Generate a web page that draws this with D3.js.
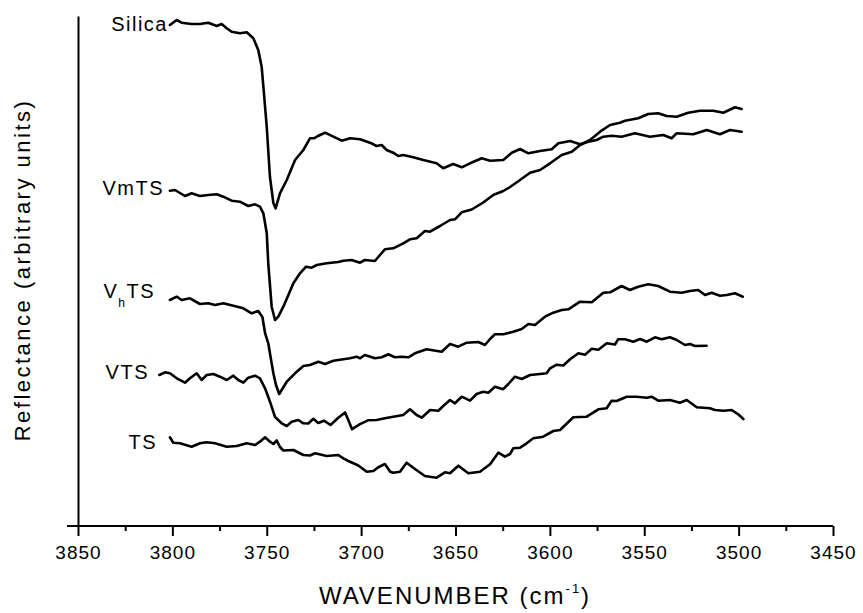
<!DOCTYPE html>
<html>
<head>
<meta charset="utf-8">
<script src="https://cdn.jsdelivr.net/npm/d3@7"></script>
<style>
  html, body { margin: 0; padding: 0; background: #fff; }
  svg { display: block; font-family: "Liberation Sans", Arial, sans-serif; }
</style>
</head>
<body>
<svg id="chart" width="863" height="613"></svg>
<script>
// Wavenumber axis ticks (cm-1), plotted high to low
const majorTicks = [3850, 3800, 3750, 3700, 3650, 3600, 3550, 3500, 3450];
const minorTicks = [3825, 3775, 3725, 3675, 3625, 3575, 3525, 3475];

// Spectra: [wavenumber, reflectance (arbitrary units, curves offset vertically)]
const silica = [
  [3801.3,501],[3797.7,506],[3795.1,503.3],[3789.8,502],[3785.4,502],[3781.0,503.3],
  [3776.5,500],[3773.9,502],[3771.2,497.7],[3768.6,494.3],[3764.2,492.7],[3760.6,493.7],
  [3757.1,487.7],[3754.5,476],[3752.7,459.3],[3751.5,433],[3750.0,399],[3748.3,349],
  [3746.5,323],[3745.3,317.7],[3743.0,332.7],[3739.4,346],[3735.0,366],[3730.6,376],
  [3727.1,387.7],[3725.0,387.7],[3722.9,390],[3719.1,393.3],[3714.7,389.3],[3710.3,385.3],
  [3705.9,387.7],[3700.6,386.7],[3695.3,383.3],[3691.8,380],[3689.1,381],[3686.5,376],
  [3683.0,373.3],[3680.3,370],[3677.7,371],[3672.4,368.7],[3667.1,366],[3660.0,362.7],
  [3656.5,357.7],[3651.2,362],[3646.7,358.7],[3642.3,362.7],[3636.1,367.7],[3631.7,365.3],
  [3624.7,366],[3620.2,373.3],[3615.8,377],[3611.4,372.7],[3605.2,375],[3599.0,376.7],
  [3595.5,382.7],[3589.3,385],[3584.0,381.7],[3579.6,384.3],[3575.2,386],[3571.7,389.3],
  [3567.3,390.3],[3562.0,389.3],[3554.9,392.7],[3547.0,389.3],[3539.9,391],[3535.5,387.7],
  [3532.8,392.7],[3524.0,391.7],[3516.9,396],[3509.9,391.7],[3504.6,396],[3498.4,394.3]
];

const vmts = [
  [3801.3,335.3],[3798.6,336],[3796.0,333],[3793.3,330],[3789.8,332.7],[3785.4,330],
  [3781.0,331],[3776.5,331.7],[3773.0,329.3],[3768.6,325.3],[3764.2,324.3],[3759.8,320],
  [3756.2,321.7],[3753.6,319.3],[3751.8,312.7],[3750.0,292.7],[3749.2,262.7],[3747.4,219.3],
  [3745.6,206],[3743.9,209.3],[3741.2,219.3],[3735.9,242.7],[3732.4,252.7],[3729.2,259.3],
  [3726.2,258.3],[3723.5,261],[3718.2,262.7],[3712.1,264],[3709.4,265.3],[3705.0,266],
  [3700.6,263.3],[3698.0,266],[3692.7,265],[3690.0,271],[3687.4,276.7],[3683.0,277.7],
  [3677.7,282.7],[3674.1,286.7],[3670.6,287.7],[3666.2,295],[3663.5,294.3],[3658.2,300],
  [3652.9,306],[3650.3,306.7],[3646.7,313.7],[3641.4,316.5],[3635.3,323.5],[3630.0,331],
  [3624.7,335],[3621.1,339],[3615.8,346],[3610.5,353.3],[3605.2,356],[3599.9,362.7],
  [3593.7,371],[3588.4,374.3],[3584.0,381],[3578.7,386],[3573.4,394.3],[3568.1,401],
  [3562.9,403.3],[3560.2,405.3],[3553.2,407.7],[3547.9,412],[3542.6,412.7],[3538.1,410],
  [3532.8,409.3],[3526.7,413.3],[3520.5,415.3],[3513.4,415.3],[3508.1,413.3],[3501.9,418.7],
  [3498.4,417]
];

const vhts = [
  [3801.3,226],[3797.7,229.3],[3795.1,226],[3790.7,227.7],[3785.4,222],[3781.0,222.7],
  [3777.4,221],[3773.0,222.7],[3767.7,220.3],[3762.4,217.7],[3758.0,212.7],[3754.5,215],
  [3752.3,209],[3750.9,193],[3749.2,182.7],[3747.7,166],[3746.5,152.7],[3745.1,141],
  [3743.4,132],[3739.4,144.3],[3735.0,152.7],[3730.6,160],[3727.1,161],[3722.7,164.3],
  [3719.1,162],[3714.7,165.3],[3709.4,166.7],[3705.9,167.7],[3702.3,169.3],[3700.6,167.7],
  [3698.0,171],[3692.7,167.7],[3689.1,168.7],[3685.6,171.7],[3682.1,168.7],[3678.5,169.3],
  [3675.0,168.7],[3671.5,172.7],[3665.3,176.7],[3657.3,174.3],[3652.9,182],[3648.5,179.3],
  [3644.1,183.3],[3637.9,184],[3634.4,181],[3631.7,187],[3629.1,191.7],[3624.7,191.7],
  [3619.4,194.3],[3614.9,197],[3611.4,202],[3607.9,201],[3602.6,209.3],[3598.2,213.3],
  [3593.7,216],[3590.2,216.7],[3584.0,224.3],[3577.8,223.7],[3571.7,233.3],[3568.1,233.7],
  [3562.0,240],[3557.6,236],[3553.2,239.3],[3547.9,241.7],[3542.6,240],[3536.4,234.3],
  [3530.2,233.3],[3525.8,235],[3521.4,236],[3517.8,231],[3514.3,233.3],[3509.9,230.3],
  [3506.3,231],[3501.9,232.7],[3497.8,229.3]
];

const vts = [
  [3806.9,151],[3803.9,153.7],[3801.3,152.7],[3797.7,147.7],[3793.3,143.3],[3790.7,147.7],
  [3787.1,152.7],[3784.5,146],[3781.8,151],[3778.3,152],[3774.8,149.3],[3771.2,146],
  [3767.7,150.3],[3765.1,146],[3762.4,143.3],[3759.8,148.3],[3756.2,150.3],[3753.6,147.7],
  [3750.9,137.7],[3748.3,124.3],[3745.6,109],[3742.1,102.7],[3739.4,100],[3736.8,104.3],
  [3733.3,106],[3730.6,102.7],[3728.0,102.5],[3725.3,107.2],[3722.7,103],[3719.7,105.3],
  [3716.2,101],[3712.1,108.2],[3708.5,113.5],[3706.8,106],[3704.8,96.8],[3700.6,101.8],
  [3696.4,105.7],[3691.8,106],[3687.4,107.7],[3683.0,109.3],[3677.7,111],[3674.1,116.7],
  [3670.6,111],[3667.9,108.3],[3663.5,116],[3659.1,115.3],[3656.5,120],[3652.9,126],
  [3650.3,122.7],[3646.7,129.3],[3642.3,125.3],[3638.8,132],[3635.3,134.3],[3632.6,133.3],
  [3629.1,139.3],[3624.7,136.8],[3622.0,142],[3618.5,149.3],[3614.9,147],[3610.5,151],
  [3605.2,152],[3601.7,152.7],[3599.9,157.7],[3596.4,161.3],[3592.9,160.5],[3589.3,166.7],
  [3584.9,172.7],[3581.4,171.3],[3577.8,177.3],[3574.3,176.3],[3569.9,182.7],[3565.5,181.5],
  [3563.8,186.8],[3560.2,186.7],[3555.8,184.3],[3552.2,187],[3548.7,184.3],[3544.3,188.7],
  [3540.8,186.7],[3536.4,188.7],[3532.8,186],[3528.4,181],[3525.8,182],[3523.1,180],
  [3517.0,180.2]
];

const ts = [
  [3801.3,88.7],[3799.5,83.3],[3796.0,82.7],[3789.8,79.3],[3785.4,82.7],[3781.8,83.7],
  [3777.4,82.7],[3771.2,79.3],[3765.9,80],[3760.6,82.7],[3756.2,81],[3753.6,84.3],
  [3750.9,88.7],[3748.3,84.3],[3746.5,82],[3744.7,85.5],[3743.0,79],[3741.2,75.5],
  [3735.9,76],[3730.6,71],[3727.1,70.5],[3724.4,72.7],[3718.2,70],[3712.1,71],
  [3709.4,67.7],[3706.8,65],[3704.1,62.7],[3701.5,60.5],[3697.0,54.3],[3693.5,55],
  [3691.1,58.5],[3687.4,62],[3684.6,54.3],[3683.0,53.2],[3679.4,54.3],[3675.9,63.3],
  [3671.5,57],[3666.2,50],[3660.0,48.3],[3655.6,53.7],[3652.9,52.7],[3648.5,60.3],
  [3643.2,52.7],[3637.0,54.3],[3631.7,61.7],[3627.3,73.3],[3623.8,69.3],[3621.1,72],
  [3619.4,77.7],[3615.8,78.3],[3612.3,82.7],[3608.8,87.7],[3603.5,89.3],[3598.2,95],
  [3594.6,96],[3587.6,108.7],[3580.5,109.3],[3574.3,116.7],[3569.9,117.7],[3567.3,125.3],
  [3564.6,125],[3559.3,129.3],[3554.0,129.3],[3548.7,128.3],[3546.1,129.3],[3542.6,125.3],
  [3536.4,126],[3531.1,123.3],[3527.5,126],[3522.2,118.7],[3515.2,117.7],[3512.5,116],
  [3508.1,115.3],[3503.7,116],[3500.2,111.7],[3497.5,107]
];

const seriesList = [silica, vmts, vhts, vts, ts];

const svg = d3.select("#chart");

const x = d3.scaleLinear().domain([3850, 3450]).range([78, 833]);
const y = d3.scaleLinear().domain([0, 510]).range([526, 16]);

// Spectral curves
const line = d3.line()
  .x(d => x(d[0]))
  .y(d => y(d[1]));

svg.append("g")
  .selectAll("path")
  .data(seriesList)
  .join("path")
  .attr("d", line)
  .attr("fill", "none")
  .attr("stroke", "#000")
  .attr("stroke-width", 2.6)
  .attr("stroke-linejoin", "round")
  .attr("stroke-linecap", "round");

// Bottom axis: major ticks with labels, minor ticks without
const xAxis = svg.append("g").attr("transform", `translate(0,${y(0)})`);
xAxis.call(d3.axisBottom(x).tickValues(majorTicks).tickSize(10).tickPadding(10)
  .tickSizeOuter(0).tickFormat(d3.format("d")));
xAxis.select(".domain").remove();
xAxis.selectAll(".tick line").attr("stroke", "#000").attr("stroke-width", 2);
xAxis.selectAll(".tick text")
  .attr("fill", "#000")
  .style("font-size", "19px")
  .style("letter-spacing", "1px");

const xMinor = svg.append("g").attr("transform", `translate(0,${y(0)})`);
xMinor.call(d3.axisBottom(x).tickValues(minorTicks).tickSize(5).tickFormat(""));
xMinor.select(".domain").remove();
xMinor.selectAll(".tick line").attr("stroke", "#000").attr("stroke-width", 2);

// Axis baseline, extending slightly left of the vertical axis
svg.append("line")
  .attr("x1", 67).attr("x2", x(3450))
  .attr("y1", y(0)).attr("y2", y(0))
  .attr("stroke", "#000").attr("stroke-width", 2);

// Vertical axis without ticks
const yAxis = svg.append("g").attr("transform", `translate(${x(3850)},0)`);
yAxis.call(d3.axisLeft(y).tickValues([]).tickSizeOuter(0));
yAxis.select(".domain").attr("stroke", "#000").attr("stroke-width", 2);

// Axis titles
const xTitle = svg.append("text")
  .attr("x", 455).attr("y", 604)
  .attr("text-anchor", "middle")
  .style("font-size", "24px")
  .style("letter-spacing", "2px")
  .attr("fill", "#000");
xTitle.append("tspan").text("WAVENUMBER (cm");
xTitle.append("tspan").attr("dy", -11).style("font-size", "13px").text("-1");
xTitle.append("tspan").attr("dy", 11).text(")");

svg.append("text")
  .attr("transform", "translate(30,270) rotate(-90)")
  .attr("text-anchor", "middle")
  .style("font-size", "22px")
  .style("letter-spacing", "2.5px")
  .attr("fill", "#000")
  .text("Reflectance (arbitrary units)");

// Curve labels
const labelNames = ["Silica", "VmTS", "VTS", "TS"];
const labelX = [168, 164, 149, 157];
const labelY = [30.7, 195, 379, 449];
svg.append("g")
  .selectAll("text")
  .data(labelNames)
  .join("text")
  .attr("x", (d, i) => labelX[i])
  .attr("y", (d, i) => labelY[i])
  .attr("text-anchor", "end")
  .style("font-size", "20px")
  .style("letter-spacing", "1.5px")
  .attr("fill", "#000")
  .text(d => d);

// V_h TS label with subscript
const vh = svg.append("text")
  .attr("x", 155).attr("y", 298.3)
  .attr("text-anchor", "end")
  .style("font-size", "20px")
  .style("letter-spacing", "1.5px")
  .attr("fill", "#000");
vh.append("tspan").text("V");
vh.append("tspan").attr("dy", 9).style("font-size", "12px").text("h");
vh.append("tspan").attr("dy", -9).text("TS");
</script>
</body>
</html>
